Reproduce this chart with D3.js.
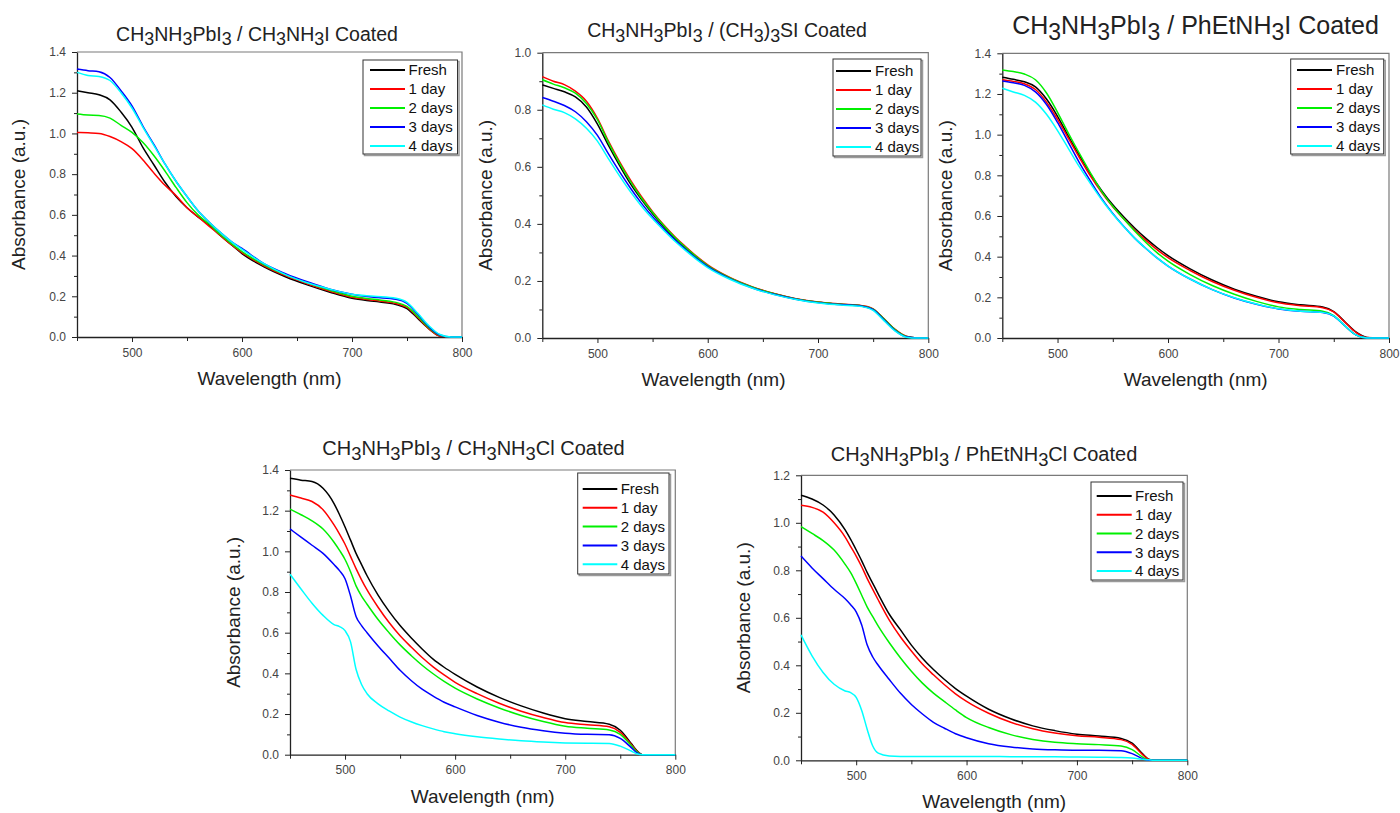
<!DOCTYPE html>
<html><head><meta charset="utf-8">
<script src="https://cdn.jsdelivr.net/npm/d3@7"></script>
<style>
html,body{margin:0;padding:0;background:#fff;}
svg{display:block;font-family:"Liberation Sans",Arial,sans-serif;}
text{white-space:pre;}
</style></head>
<body>
<svg id="chart" width="1400" height="813"></svg>
<script>
// ---------- DATA ----------
const seriesNames = ["Fresh", "1 day", "2 days", "3 days", "4 days"];
const seriesColors = ["#000000", "#ff0000", "#00f000", "#0000ff", "#00ffff"];

const wlA = [450,460,470,480,490,500,510,520,530,540,550,560,570,580,590,600,620,640,660,680,700,720,740,750,760,770,780,790,800];
const wlB = [450,460,470,480,490,495,500,505,510,515,520,530,540,550,560,570,580,590,600,620,640,660,680,700,720,740,750,760,765,770,780,790,800];

// Panel 1: CH3NH3PbI3 / CH3NH3I coated
const p1Fresh = [1.21,1.20,1.19,1.165,1.105,1.03,0.93,0.845,0.76,0.69,0.635,0.59,0.55,0.50,0.455,0.41,0.345,0.295,0.255,0.22,0.19,0.175,0.16,0.14,0.09,0.04,0.005,0,0];
const p1Day1  = [1.005,1.003,1.0,0.985,0.96,0.925,0.87,0.805,0.745,0.695,0.635,0.59,0.545,0.50,0.455,0.415,0.35,0.30,0.26,0.225,0.195,0.18,0.165,0.145,0.095,0.04,0.005,0,0];
const p1Day2  = [1.095,1.09,1.088,1.075,1.04,1.005,0.955,0.89,0.815,0.735,0.66,0.60,0.555,0.505,0.46,0.42,0.355,0.305,0.265,0.23,0.20,0.185,0.17,0.15,0.10,0.045,0.008,0,0];
const p1Day3  = [1.316,1.308,1.303,1.275,1.21,1.135,1.035,0.945,0.85,0.765,0.69,0.62,0.565,0.515,0.47,0.435,0.36,0.31,0.27,0.235,0.21,0.195,0.185,0.165,0.11,0.05,0.01,0,0];
const p1Day4  = [1.30,1.285,1.28,1.26,1.20,1.125,1.03,0.94,0.85,0.765,0.69,0.62,0.565,0.515,0.47,0.43,0.36,0.305,0.265,0.235,0.21,0.20,0.19,0.17,0.115,0.055,0.012,0,0];

// Panel 2: CH3NH3PbI3 / (CH3)3SI coated
const p2Fresh = [0.887,0.875,0.863,0.845,0.81,0.75,0.675,0.605,0.54,0.485,0.435,0.39,0.35,0.315,0.282,0.253,0.21,0.178,0.155,0.137,0.125,0.118,0.112,0.10,0.065,0.028,0.005,0,0];
const p2Day1  = [0.916,0.90,0.888,0.865,0.83,0.77,0.69,0.618,0.553,0.495,0.443,0.397,0.356,0.32,0.286,0.256,0.212,0.18,0.156,0.138,0.126,0.119,0.113,0.102,0.067,0.03,0.006,0,0];
const p2Day2  = [0.905,0.89,0.877,0.858,0.822,0.765,0.685,0.613,0.548,0.49,0.44,0.394,0.353,0.317,0.284,0.254,0.211,0.179,0.155,0.137,0.125,0.118,0.112,0.101,0.066,0.029,0.005,0,0];
const p2Day3  = [0.843,0.83,0.815,0.793,0.758,0.71,0.645,0.583,0.525,0.472,0.425,0.383,0.345,0.31,0.278,0.25,0.208,0.176,0.153,0.136,0.124,0.117,0.111,0.099,0.063,0.026,0.004,0,0];
const p2Day4  = [0.817,0.802,0.79,0.768,0.735,0.69,0.628,0.568,0.512,0.462,0.418,0.378,0.34,0.306,0.275,0.247,0.206,0.175,0.152,0.135,0.123,0.116,0.11,0.097,0.06,0.024,0.003,0,0];

// Panel 3: CH3NH3PbI3 / PhEtNH3I coated
const p3Fresh = [1.282,1.272,1.26,1.235,1.175,1.09,0.99,0.895,0.805,0.725,0.655,0.595,0.54,0.49,0.445,0.405,0.34,0.285,0.24,0.205,0.178,0.163,0.152,0.13,0.08,0.03,0.003,0,0];
const p3Day1  = [1.27,1.262,1.25,1.222,1.16,1.075,0.98,0.885,0.795,0.715,0.645,0.585,0.53,0.48,0.435,0.395,0.332,0.278,0.235,0.2,0.173,0.159,0.149,0.128,0.078,0.028,0.002,0,0];
const p3Day2  = [1.318,1.31,1.298,1.27,1.205,1.11,1.005,0.905,0.81,0.72,0.648,0.585,0.525,0.47,0.42,0.378,0.312,0.258,0.215,0.18,0.153,0.14,0.132,0.11,0.06,0.015,0,0,0];
const p3Day3  = [1.264,1.255,1.242,1.21,1.148,1.06,0.96,0.86,0.77,0.685,0.612,0.548,0.49,0.44,0.394,0.354,0.29,0.238,0.197,0.166,0.143,0.131,0.125,0.108,0.06,0.015,0,0,0];
const p3Day4  = [1.228,1.21,1.193,1.16,1.1,1.02,0.93,0.84,0.758,0.68,0.61,0.547,0.49,0.44,0.394,0.354,0.29,0.238,0.198,0.167,0.144,0.132,0.126,0.109,0.061,0.015,0,0,0];

// Panel 4: CH3NH3PbI3 / CH3NH3Cl coated
const p4Fresh = [1.359,1.35,1.343,1.31,1.235,1.18,1.12,1.055,0.99,0.935,0.88,0.785,0.705,0.635,0.575,0.52,0.47,0.43,0.395,0.333,0.282,0.24,0.205,0.177,0.163,0.15,0.12,0.055,0.02,0,0,0,0];
const p4Day1  = [1.277,1.262,1.245,1.205,1.13,1.085,1.035,0.975,0.915,0.86,0.81,0.725,0.65,0.585,0.53,0.478,0.432,0.392,0.356,0.3,0.253,0.214,0.183,0.158,0.147,0.137,0.11,0.05,0.018,0,0,0,0];
const p4Day2  = [1.208,1.18,1.15,1.11,1.045,1.005,0.96,0.9,0.83,0.78,0.74,0.665,0.6,0.54,0.488,0.44,0.398,0.36,0.327,0.274,0.23,0.193,0.163,0.14,0.13,0.122,0.1,0.045,0.015,0,0,0,0];
const p4Day3  = [1.11,1.07,1.03,0.99,0.935,0.905,0.865,0.78,0.68,0.635,0.6,0.535,0.475,0.415,0.365,0.322,0.288,0.258,0.235,0.193,0.16,0.135,0.118,0.106,0.1,0.098,0.08,0.035,0.01,0,0,0,0];
const p4Day4  = [0.887,0.815,0.745,0.685,0.64,0.63,0.61,0.555,0.42,0.345,0.3,0.25,0.215,0.185,0.162,0.143,0.127,0.113,0.103,0.088,0.077,0.068,0.062,0.058,0.056,0.055,0.042,0.018,0.005,0,0,0,0];

// Panel 5: CH3NH3PbI3 / PhEtNH3Cl coated
const p5Fresh = [1.116,1.10,1.075,1.033,0.97,0.93,0.886,0.84,0.79,0.745,0.70,0.615,0.55,0.485,0.43,0.382,0.34,0.302,0.27,0.215,0.175,0.145,0.125,0.11,0.102,0.092,0.072,0.025,0.005,0,0,0,0];
const p5Day1  = [1.074,1.065,1.045,1.0,0.94,0.9,0.86,0.815,0.765,0.72,0.675,0.59,0.52,0.46,0.405,0.36,0.318,0.28,0.248,0.198,0.16,0.133,0.115,0.103,0.097,0.087,0.067,0.022,0.004,0,0,0,0];
const p5Day2  = [0.984,0.955,0.925,0.885,0.825,0.79,0.745,0.695,0.645,0.605,0.565,0.495,0.432,0.375,0.325,0.283,0.247,0.212,0.18,0.138,0.108,0.088,0.076,0.07,0.066,0.06,0.045,0.012,0,0,0,0,0];
const p5Day3  = [0.86,0.81,0.765,0.72,0.68,0.655,0.625,0.57,0.485,0.435,0.4,0.34,0.283,0.235,0.195,0.16,0.135,0.112,0.095,0.07,0.056,0.048,0.044,0.042,0.042,0.04,0.028,0.006,0,0,0,0,0];
const p5Day4  = [0.528,0.44,0.37,0.32,0.292,0.285,0.265,0.21,0.13,0.06,0.03,0.018,0.016,0.016,0.016,0.016,0.016,0.016,0.016,0.016,0.015,0.015,0.015,0.014,0.013,0.012,0.01,0.004,0.002,0,0,0,0];

const xMajorTicks = [500, 600, 700, 800];
const xMinorTicks = [450, 550, 650, 750];
const xLabel = "Wavelength (nm)";
const yLabel = "Absorbance (a.u.)";

// title parts: [text, isSubscript]
const title1 = [["CH",0],["3",1],["NH",0],["3",1],["PbI",0],["3",1],[" / CH",0],["3",1],["NH",0],["3",1],["I Coated",0]];
const title2 = [["CH",0],["3",1],["NH",0],["3",1],["PbI",0],["3",1],[" / (CH",0],["3",1],[")",0],["3",1],["SI Coated",0]];
const title3 = [["CH",0],["3",1],["NH",0],["3",1],["PbI",0],["3",1],[" / PhEtNH",0],["3",1],["I Coated",0]];
const title4 = [["CH",0],["3",1],["NH",0],["3",1],["PbI",0],["3",1],[" / CH",0],["3",1],["NH",0],["3",1],["Cl Coated",0]];
const title5 = [["CH",0],["3",1],["NH",0],["3",1],["PbI",0],["3",1],[" / PhEtNH",0],["3",1],["Cl Coated",0]];

// ---------- LAYOUT ----------
const panels = [
  {wl: wlA, series: [p1Fresh,p1Day1,p1Day2,p1Day3,p1Day4], ymax: 1.4, title: title1,
   x0: 77, x1: 462, y0: 52, y1: 337, tX: 257, tY: 40.7, tSize: 19.5, yLabX: 24.5, xLabY: 385,
   lg: {x: 363, y: 60, w: 94.5, h: 94, l0: 7, l1: 42, tx: 45.5, r0: 10, dr: 19}},
  {wl: wlA, series: [p2Fresh,p2Day1,p2Day2,p2Day3,p2Day4], ymax: 1.0, title: title2,
   x0: 542.3, x1: 928.3, y0: 52.7, y1: 338, tX: 727, tY: 37.3, tSize: 19.5, yLabX: 491.5, xLabY: 385.6, xLabCX: 713.5,
   lg: {x: 833, y: 59, w: 88, h: 97, l0: 3, l1: 38, tx: 42, r0: 12, dr: 19}},
  {wl: wlA, series: [p3Fresh,p3Day1,p3Day2,p3Day3,p3Day4], ymax: 1.4, title: title3,
   x0: 1002.3, x1: 1389, y0: 53.3, y1: 338, tX: 1195.5, tY: 34.3, tSize: 25, yLabX: 951.5, xLabY: 385.6,
   lg: {x: 1290.7, y: 59, w: 93, h: 95, l0: 6.3, l1: 41.3, tx: 45.3, r0: 11, dr: 19}},
  {wl: wlB, series: [p4Fresh,p4Day1,p4Day2,p4Day3,p4Day4], ymax: 1.4, title: title4,
   x0: 290, x1: 675.3, y0: 470, y1: 754.7, tX: 473.5, tY: 455, tSize: 20, yLabX: 239.5, xLabY: 802.7,
   lg: {x: 577.7, y: 473, w: 91.3, h: 101, l0: 5, l1: 39.6, tx: 43, r0: 16, dr: 18.8}},
  {wl: wlB, series: [p5Fresh,p5Day1,p5Day2,p5Day3,p5Day4], ymax: 1.2, title: title5,
   x0: 801, x1: 1187.3, y0: 475.3, y1: 760.3, tX: 984, tY: 460.7, tSize: 20, yLabX: 750, xLabY: 808.3,
   lg: {x: 1091, y: 482, w: 92, h: 98, l0: 5.7, l1: 40.7, tx: 44, r0: 14, dr: 18.75}}
];

const svg = d3.select("#chart");
svg.append("rect").attr("width", 1400).attr("height", 813).attr("fill", "#fff");

function drawTitle(g, parts, cx, cy, size) {
  const t = g.append("text").attr("x", cx).attr("y", cy)
    .attr("text-anchor", "middle").attr("font-size", size).attr("fill", "#222");
  let shifted = false;
  const sh = size * 0.24;
  parts.forEach(([s, sub]) => {
    const ts = t.append("tspan").text(s);
    if (sub && !shifted) { ts.attr("dy", sh).attr("font-size", size * 0.92); shifted = true; }
    else if (!sub && shifted) { ts.attr("dy", -sh); shifted = false; }
    else if (sub) { ts.attr("font-size", size * 0.92); }
  });
}

function drawPanel(p) {
  const g = svg.append("g");
  const x = d3.scaleLinear().domain([450, 800]).range([p.x0, p.x1]);
  const y = d3.scaleLinear().domain([0, p.ymax]).range([p.y1, p.y0]);

  // top & right frame
  g.append("path")
    .attr("d", `M${p.x0},${p.y0}H${p.x1}V${p.y1}`)
    .attr("fill", "none").attr("stroke", "#7a7a7a").attr("stroke-width", 1.2);

  const yMajor = d3.range(0, p.ymax + 1e-9, 0.2);
  const yMinor = d3.range(0.1, p.ymax, 0.2);

  const styleAxis = (sel) => {
    sel.select(".domain").attr("stroke", "#222").attr("stroke-width", 1.3);
    sel.selectAll(".tick line").attr("stroke", "#222").attr("stroke-width", 1);
    sel.selectAll("text").attr("fill", "#444").attr("font-size", 12)
      .attr("font-family", "'Liberation Sans',Arial,sans-serif");
  };

  // minor ticks
  g.append("g").attr("transform", `translate(${p.x0},0)`)
    .call(d3.axisLeft(y).tickValues(yMinor).tickSize(3).tickFormat(""))
    .call(s => { s.select(".domain").remove(); s.selectAll(".tick line").attr("stroke", "#222"); });
  g.append("g").attr("transform", `translate(0,${p.y1})`)
    .call(d3.axisBottom(x).tickValues(xMinorTicks).tickSize(4).tickFormat(""))
    .call(s => { s.select(".domain").remove(); s.selectAll(".tick line").attr("stroke", "#222"); });

  // major axes
  g.append("g").attr("transform", `translate(${p.x0},0)`)
    .call(d3.axisLeft(y).tickValues(yMajor).tickSize(5).tickSizeOuter(0).tickPadding(6).tickFormat(d3.format(".1f")))
    .call(styleAxis);
  g.append("g").attr("transform", `translate(0,${p.y1})`)
    .call(d3.axisBottom(x).tickValues(xMajorTicks).tickSize(5).tickSizeOuter(0).tickPadding(6).tickFormat(d3.format("d")))
    .call(styleAxis);

  // lines
  const line = d3.line().x(d => x(d[0])).y(d => y(d[1])).curve(d3.curveMonotoneX);
  p.series.forEach((vals, i) => {
    g.append("path").datum(p.wl.map((w, k) => [w, vals[k]]))
      .attr("d", line).attr("fill", "none")
      .attr("stroke", seriesColors[i]).attr("stroke-width", 1.5)
      .attr("stroke-linejoin", "round");
  });

  // titles & labels
  drawTitle(g, p.title, p.tX, p.tY, p.tSize);
  g.append("text").attr("x", p.xLabCX || (p.x0 + p.x1) / 2).attr("y", p.xLabY)
    .attr("text-anchor", "middle").attr("font-size", 19).attr("fill", "#222").text(xLabel);
  g.append("text").attr("transform", `translate(${p.yLabX},${(p.y0 + p.y1) / 2}) rotate(-90)`)
    .attr("text-anchor", "middle").attr("font-size", 19).attr("fill", "#222").text(yLabel);

  // legend
  const L = p.lg;
  const lg = g.append("g").attr("transform", `translate(${L.x},${L.y})`);
  lg.append("rect").attr("x", 1.5).attr("y", 1.5).attr("width", L.w).attr("height", L.h)
    .attr("fill", "none").attr("stroke", "#9a9a9a").attr("stroke-width", 1.5);
  lg.append("rect").attr("width", L.w).attr("height", L.h)
    .attr("fill", "#fff").attr("stroke", "#333").attr("stroke-width", 1);
  seriesNames.forEach((name, i) => {
    const ry = L.r0 + i * L.dr;
    lg.append("line").attr("x1", L.l0).attr("x2", L.l1).attr("y1", ry).attr("y2", ry)
      .attr("stroke", seriesColors[i]).attr("stroke-width", 2);
    lg.append("text").attr("x", L.tx).attr("y", ry).attr("dy", "0.36em")
      .attr("font-size", 15).attr("fill", "#111").text(name);
  });
}

panels.forEach(drawPanel);
</script>
</body></html>
